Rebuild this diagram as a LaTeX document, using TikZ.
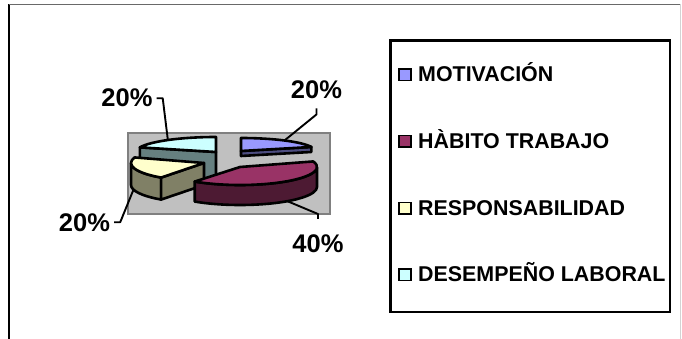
\documentclass[tikz,border=0pt]{standalone}
\usepackage{fontspec}
\setmainfont{Liberation Sans}
\usepackage[svgnames]{xcolor}

\definecolor{motiv}{HTML}{9999FF}
\definecolor{motivside}{HTML}{4D4D80}
\definecolor{habito}{HTML}{993366}
\definecolor{habitoside}{HTML}{4D1A33}
\definecolor{respon}{HTML}{FFFFCC}
\definecolor{responside}{HTML}{808066}
\definecolor{desemp}{HTML}{CCFFFF}
\definecolor{desempside}{HTML}{668080}

\begin{document}
\begin{tikzpicture}[x=1pt,y=1pt,
	  slice/.style={draw=black,line width=2.6pt,line join=round},
	  leader/.style={draw=black,line width=1.9pt,line join=round}]
	  \tikzstyle{pct} = [inner sep=0pt,anchor=base,font=\fontsize{25.5}{30}\selectfont\bfseries]
	  \tikzstyle{key} = [draw=black,line width=1.7pt,minimum size=11.5pt,inner sep=0pt]
	  \tikzstyle{item} = [inner sep=0pt,anchor=base west,font=\fontsize{21.4}{25}\selectfont\bfseries]
	  \useasboundingbox (0,0) rectangle (682,-339);
	  % chart area
	  \draw[black,line width=1.3pt] (9,-339) -- (9,-4.5);
	  \draw[DimGray,line width=1.3pt] (9,-4.5) -- (680.5,-4.5);
	  \draw[LightGray,line width=1pt] (680.5,-4.5) -- (680.5,-339);
	  % plot area
	  \draw[fill=Silver,draw=Gray,line width=2.4pt] (128,-133) rectangle (330,-214);
	  % DESEMPENO LABORAL
	  \begin{scope}[shift={(216,-152)}]
	    \draw[slice,fill=desempside] (0,0) -- (162:80 and 15) -- ++(0,-30) -- (0,-30) -- cycle;
	    \draw[slice,fill=desemp] (0,0) -- (90:80 and 15) arc[start angle=90,end angle=162,x radius=80,y radius=15] -- cycle;
	    \coordinate (s_4) at (127:80 and 15);
	  \end{scope}
	  % MOTIVACION
	  \begin{scope}[shift={(241,-151)}]
	    \draw[slice,fill=motivside] (0,0) -- (18:74 and 13) -- ++(0,-5) -- (0,-5) -- cycle;
	    \draw[slice,fill=motiv] (0,0) -- (18:74 and 13) arc[start angle=18,end angle=90,x radius=74,y radius=13] -- cycle;
	    \coordinate (s_1) at (54:74 and 13);
	  \end{scope}
	  % RESPONSABILIDAD
	  \begin{scope}[shift={(204,-163)}]
	    \draw[slice,fill=responside] (180:73 and 18) arc[start angle=180,end angle=234,x radius=73,y radius=18] -- ++(0,-22) arc[start angle=234,end angle=180,x radius=73,y radius=18] -- cycle;
	    \draw[slice,fill=responside] (0,0) -- (234:73 and 18) -- ++(0,-22) -- (0,-22) -- cycle;
	    \draw[slice,fill=respon] (0,0) -- (162:73 and 18) arc[start angle=162,end angle=234,x radius=73,y radius=18] -- cycle;
	    \path (195:73 and 18) ++(0,-22) coordinate (s_3);
	  \end{scope}
	  % HABITO TRABAJO
	  \begin{scope}[shift={(240,-167)}]
	    \draw[slice,fill=habitoside] (0:77 and 18) arc[start angle=0,end angle=-126,x radius=77,y radius=18] -- ++(0,-20) arc[start angle=-126,end angle=0,x radius=77,y radius=18] -- cycle;
	    \draw[slice,fill=habito] (0,0) -- (18:77 and 18) arc[start angle=18,end angle=-126,x radius=77,y radius=18] -- cycle;
	    \path (-52:77 and 18) ++(0,-20) coordinate (s_2);
	  \end{scope}
	  % percentages
	  \node (l_1) [pct] at (316.5,-98.5) {20\%};
	  \node (l_2) [pct] at (318,-252) {40\%};
	  \node (l_3) [pct] at (84.5,-231) {20\%};
	  \node (l_4) [pct] at (127,-107) {20\%};
	  \draw[leader] (l_1.south) ++(0,-9.5) -- ++(0,-6) -- (s_1);
	  \draw[leader] (l_2.north) ++(0,15) -- ++(0,5) -- (s_2);
	  \draw[leader] (l_3.east) ++(4,0) -- ++(6,0) -- (s_3);
	  \draw[leader] (l_4.east) ++(4,0) -- ++(6,0) -- (s_4);
	  % legend
	  \draw[black,line width=2.8pt] (390.5,-40.5) rectangle (670,-312);
	  \foreach \c/\t [count=\n] in {motiv/MOTIVACIÓN,habito/HÀBITO TRABAJO,respon/RESPONSABILIDAD,desemp/DESEMPEÑO LABORAL}
	  {
	    \node (e_\n) [key,fill=\c] at (405,{-74.7-66.7*(\n-1)}) {};
	    \node (t_\n) [item] at (418,{-81.7-66.7*(\n-1)}) {\t};
	  }
	\end{tikzpicture}
\end{document}
